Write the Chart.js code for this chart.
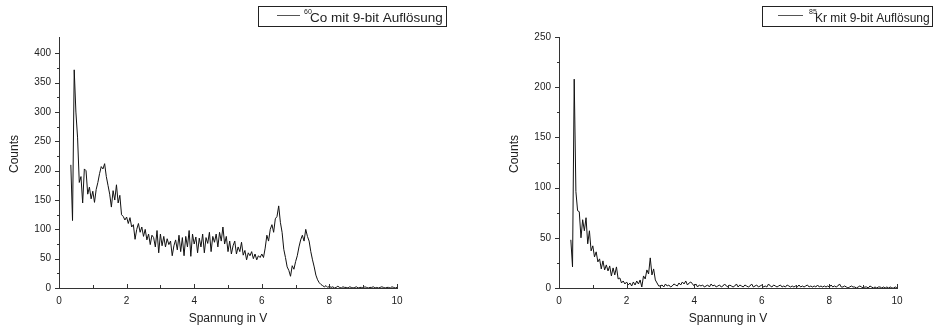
<!DOCTYPE html>
<html>
<head>
<meta charset="utf-8">
<script src="https://cdn.jsdelivr.net/npm/chart.js@4"></script>
<style>
  html, body { margin: 0; padding: 0; background: #fff; }
  #wrap { position: relative; width: 936px; height: 325px; }
  .box { position: absolute; top: 0; width: 468px; height: 325px; }
</style>
</head>
<body>
<div id="wrap">
  <div class="box" style="left:0"><canvas id="coChart"></canvas></div>
  <div class="box" style="left:468px"><canvas id="krChart"></canvas></div>
</div>
<script>
// DATA -----------------------------------------------------------------------

// channel voltages (V)
const spannung = [
  0.35, 0.4, 0.45, 0.5, 0.55, 0.6, 0.65, 0.7, 0.75, 0.8, 0.85, 0.9, 0.95,
  1, 1.05, 1.1, 1.15, 1.2, 1.25, 1.3, 1.35, 1.4, 1.45, 1.5, 1.55, 1.6, 1.65, 1.7, 1.75, 1.8, 1.85, 1.9, 1.95,
  2, 2.05, 2.1, 2.15, 2.2, 2.25, 2.3, 2.35, 2.4, 2.45, 2.5, 2.55, 2.6, 2.65, 2.7, 2.75, 2.8, 2.85, 2.9, 2.95,
  3, 3.05, 3.1, 3.15, 3.2, 3.25, 3.3, 3.35, 3.4, 3.45, 3.5, 3.55, 3.6, 3.65, 3.7, 3.75, 3.8, 3.85, 3.9, 3.95,
  4, 4.05, 4.1, 4.15, 4.2, 4.25, 4.3, 4.35, 4.4, 4.45, 4.5, 4.55, 4.6, 4.65, 4.7, 4.75, 4.8, 4.85, 4.9, 4.95,
  5, 5.05, 5.1, 5.15, 5.2, 5.25, 5.3, 5.35, 5.4, 5.45, 5.5, 5.55, 5.6, 5.65, 5.7, 5.75, 5.8, 5.85, 5.9, 5.95,
  6, 6.05, 6.1, 6.15, 6.2, 6.25, 6.3, 6.35, 6.4, 6.45, 6.5, 6.55, 6.6, 6.65, 6.7, 6.75, 6.8, 6.85, 6.9, 6.95,
  7, 7.05, 7.1, 7.15, 7.2, 7.25, 7.3, 7.35, 7.4, 7.45, 7.5, 7.55, 7.6, 7.65, 7.7, 7.75, 7.8, 7.85, 7.9, 7.95,
  8, 8.05, 8.1, 8.15, 8.2, 8.25, 8.3, 8.35, 8.4, 8.45, 8.5, 8.55, 8.6, 8.65, 8.7, 8.75, 8.8, 8.85, 8.9, 8.95,
  9, 9.05, 9.1, 9.15, 9.2, 9.25, 9.3, 9.35, 9.4, 9.45, 9.5, 9.55, 9.6, 9.65, 9.7, 9.75, 9.8, 9.85, 9.9, 9.95,
  10
]

// 60Co spectrum
const coCounts = [
  210, 115, 372, 300, 256, 180, 190, 145, 203, 200, 160, 172, 152,
  165, 146, 168, 180, 195, 207, 203, 212, 190, 175, 160, 138, 166, 150, 176, 145, 158, 125, 122, 116,
  121, 110, 120, 104, 108, 83, 100, 110, 95, 104, 88, 100, 82, 92, 74, 90, 86, 70, 98, 60,
  92, 72, 88, 70, 84, 74, 80, 55, 72, 82, 65, 90, 62, 86, 55, 88, 70, 98, 54, 92,
  75, 87, 60, 85, 70, 92, 60, 86, 76, 95, 62, 88, 78, 92, 70, 95, 80, 104, 75, 88,
  62, 80, 58, 72, 80, 58, 70, 62, 78, 56, 64, 48, 60, 55, 62, 50, 58, 48, 55, 52,
  58, 52, 68, 90, 80, 100, 108, 95, 118, 122, 140, 112, 95, 66, 52, 36, 30, 20, 38, 32,
  45, 55, 70, 82, 90, 80, 100, 88, 80, 62, 48, 36, 22, 14, 9, 6, 4, 2, 4, 1,
  3, 1, 2, 0, 1, 3, 1, 0, 2, 1, 1, 0, 2, 1, 0, 1, 2, 0, 1, 1,
  0, 2, 1, 0, 1, 1, 2, 0, 1, 0, 1, 2, 1, 0, 1, 1, 0, 2, 1, 0,
  1
]

// 85Kr spectrum
const krCounts = [
  48, 21, 208, 96, 77, 76, 50, 68, 57, 70, 44, 57, 37,
  42, 31, 36, 26, 29, 19, 27, 18, 23, 17, 22, 12, 20, 13, 21, 9, 10, 5, 7, 4,
  6, 3, 5, 2, 6, 3, 7, 4, 8, 1, 12, 9, 18, 14, 30, 13, 19, 8, 5, 2,
  2, 3, 1, 4, 2, 3, 1, 2, 4, 3, 2, 5, 3, 6, 4, 7, 3, 5, 6, 4,
  2, 4, 1, 3, 2, 3, 1, 2, 3, 1, 4, 2, 3, 1, 2, 3, 1, 2, 4, 2,
  1, 3, 2, 1, 2, 4, 1, 3, 2, 1, 3, 2, 1, 2, 4, 1, 2, 3, 1, 2,
  3, 1, 2, 1, 4, 2, 1, 3, 2, 1, 2, 3, 1, 2, 1, 3, 2, 1, 2, 1,
  2, 1, 3, 1, 2, 1, 2, 3, 1, 2, 1, 2, 1, 3, 1, 2, 1, 2, 1, 2,
  1, 3, 1, 2, 1, 2, 4, 1, 1, 2, 1, 0, 1, 2, 1, 1, 0, 1, 2, 1,
  0, 1, 1, 0, 2, 1, 0, 1, 0, 1, 1, 0, 1, 0, 1, 0, 1, 0, 0, 1,
  0
]

const xTicks = [0, 2, 4, 6, 8, 10]
const coYTicks = [0, 50, 100, 150, 200, 250, 300, 350, 400]
const krYTicks = [0, 50, 100, 150, 200, 250]

// SETTINGS -------------------------------------------------------------------

const fontFamily = "'Liberation Sans', Arial, Helvetica, sans-serif"
const axisColor = '#333'
const textColor = '#222'

// PLUGINS --------------------------------------------------------------------

// axis lines, major/minor tick marks and axis titles
const axisFrame = {
    id: 'axisFrame',
    afterDraw(chart, args, opts) {
        const {ctx, chartArea: a, scales: {x, y}} = chart
        ctx.save()
        ctx.strokeStyle = axisColor
        ctx.lineWidth = 1
        ctx.beginPath()
        ctx.moveTo(a.left + 0.5, a.top)
        ctx.lineTo(a.left + 0.5, a.bottom + 0.5)
        ctx.lineTo(a.right, a.bottom + 0.5)
        ctx.stroke()

        ctx.beginPath()
        const xMaj = opts.xTicks
        xMaj.forEach((v, i) => {
            const px = Math.round(x.getPixelForValue(v)) + 0.5
            ctx.moveTo(px, a.bottom + 1)
            ctx.lineTo(px, a.bottom - 4)
            if (i < xMaj.length - 1) {
                const mx = Math.round(x.getPixelForValue((v + xMaj[i + 1]) / 2)) + 0.5
                ctx.moveTo(mx, a.bottom)
                ctx.lineTo(mx, a.bottom - 3)
            }
        })
        const yMaj = opts.yTicks
        yMaj.forEach((v, i) => {
            const py = Math.round(y.getPixelForValue(v)) + 0.5
            ctx.moveTo(a.left - 4, py)
            ctx.lineTo(a.left + 1, py)
            const next = i < yMaj.length - 1 ? yMaj[i + 1] : v + (v - yMaj[i - 1])
            if (next <= y.max) {
                const my = Math.round(y.getPixelForValue((v + next) / 2)) + 0.5
                ctx.moveTo(a.left - 2, my)
                ctx.lineTo(a.left + 1, my)
            }
        })
        ctx.stroke()

        // axis titles
        ctx.fillStyle = textColor
        ctx.textAlign = 'center'
        ctx.textBaseline = 'alphabetic'
        ctx.font = `12px ${fontFamily}`
        ctx.fillText('Spannung in V', (a.left + a.right) / 2, 322)
        ctx.translate(a.left - 41, 154)
        ctx.rotate(-Math.PI / 2)
        ctx.fillText('Counts', 0, 0)
        ctx.restore()
    }
}

// boxed legend with isotope mass number as superscript
const isoLegend = {
    id: 'isoLegend',
    afterDraw(chart, args, o) {
        const {ctx} = chart
        ctx.save()
        ctx.strokeStyle = '#222'
        ctx.lineWidth = 1
        ctx.strokeRect(o.x + 0.5, o.y + 0.5, o.w, o.h)
        ctx.strokeStyle = '#555'
        ctx.beginPath()
        ctx.moveTo(o.line[0], o.y + 9.5)
        ctx.lineTo(o.line[1], o.y + 9.5)
        ctx.stroke()
        ctx.fillStyle = textColor
        ctx.textAlign = 'left'
        ctx.textBaseline = 'alphabetic'
        ctx.font = `${Math.round(o.size * 0.55)}px ${fontFamily}`
        ctx.fillText(o.mass, o.massX, o.y + 8)
        ctx.font = `${o.size}px ${fontFamily}`
        ctx.fillText(o.text, o.textX, o.y + 15.5)
        ctx.restore()
    }
}

// CHARTS ---------------------------------------------------------------------

function toPoints(xs, ys) {
    return xs.map((v, i) => ({x: v, y: ys[i]}))
}

function makeChart(id, counts, yTicks, yMax, padding, legend) {
    return new Chart(document.getElementById(id), {
        type: 'line',
        data: {
            datasets: [{
                data: toPoints(spannung, counts),
                borderColor: '#111',
                borderWidth: 1,
                pointRadius: 0,
                tension: 0,
                fill: false
            }]
        },
        options: {
            responsive: true,
            maintainAspectRatio: false,
            animation: false,
            events: [],
            layout: {padding: padding},
            plugins: {
                legend: {display: false},
                tooltip: {enabled: false},
                axisFrame: {xTicks: xTicks, yTicks: yTicks},
                isoLegend: legend
            },
            scales: {
                x: {
                    type: 'linear',
                    min: 0,
                    max: 10,
                    grid: {display: false, drawTicks: false},
                    border: {display: false},
                    afterBuildTicks: (s) => { s.ticks = xTicks.map(v => ({value: v})) },
                    afterFit: (s) => { s.height = 37 },
                    ticks: {
                        padding: 7,
                        maxRotation: 0,
                        color: textColor,
                        font: {family: fontFamily, size: 10}
                    }
                },
                y: {
                    min: 0,
                    max: yMax,
                    grid: {display: false, drawTicks: false},
                    border: {display: false},
                    afterBuildTicks: (s) => { s.ticks = yTicks.map(v => ({value: v})) },
                    afterFit: (s) => { s.width = 59 },
                    ticks: {
                        padding: 8,
                        color: textColor,
                        font: {family: fontFamily, size: 10}
                    }
                }
            }
        },
        plugins: [axisFrame, isoLegend]
    })
}

makeChart('coChart', coCounts, coYTicks, 428,
    {top: 37, right: 71, left: 0, bottom: 0},
    {x: 258, y: 6, w: 188, h: 20, line: [277, 300], massX: 304, textX: 310,
     size: 13.5, mass: '60', text: 'Co mit 9-bit Auflösung'})

makeChart('krChart', krCounts, krYTicks, 250,
    {top: 37, right: 39, left: 32, bottom: 0},
    {x: 294, y: 6, w: 170, h: 20, line: [310, 335], massX: 341, textX: 347,
     size: 12, mass: '85', text: 'Kr mit 9-bit Auflösung'})
</script>
</body>
</html>
